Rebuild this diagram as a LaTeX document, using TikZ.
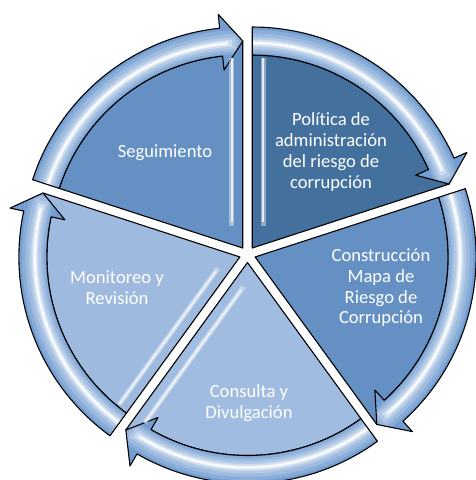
\documentclass[tikz,border=0pt]{standalone}
\usepackage{fontspec}
\setmainfont{Carlito}[Ligatures={NoCommon}]
\usetikzlibrary{calc}
\definecolor{bandc}{RGB}{116,158,210}
\definecolor{cpol}{RGB}{68,112,158}
\definecolor{ccon}{RGB}{101,144,196}
\definecolor{cseg}{RGB}{101,144,195}
\definecolor{ccons}{RGB}{160,188,224}
\definecolor{cmon}{RGB}{158,186,223}
\tikzset{
  outl/.style={draw=black, line width=1.1pt, line join=round},
  lbl/.style={text=white, font=\fontsize{18.6}{20.7}\selectfont, align=center},
  glossw/.style={white, opacity=.4, line width=5pt},
  glossn/.style={white, opacity=.8, line width=1.6pt},
}
% #1 bisector, #2 start angle, #3 end angle, #4 body colour, #5 name
\newcommand\segshape[5]{%
  \pgfmathsetmacro\hb{#3+6}%
  \begin{scope}[shift={(247.5,225.5)}, shift={(#1:8pt)}]
    \coordinate (#5) at (0,0);
    \path[outl, fill=#4] (0,0) -- (#3:207pt) -- (\hb:193pt)
      arc[start angle=\hb, end angle=#2, radius=193pt] -- cycle;
    \def\bp{(#2:221pt) arc[start angle=#2, end angle=\hb, radius=221pt]
      -- (\hb:235pt) -- (#3:207pt) -- (\hb:179pt) -- (\hb:193pt)
      arc[start angle=\hb, end angle=#2, radius=193pt] -- cycle}%
    \fill[bandc] \bp;
    \begin{scope}
      \clip \bp;
      \draw[bandc!85!white, line width=24pt] (#2:206pt) arc[start angle=#2, end angle=#3, radius=206pt];
      \draw[bandc!70!white, line width=18pt] (#2:205.5pt) arc[start angle=#2, end angle=#3+1, radius=205.5pt];
      \draw[bandc!55!white, line width=12pt] (#2:205pt) arc[start angle=#2, end angle=#3+2, radius=205pt];
      \draw[bandc!35!white, line width=7pt] (#2:205pt) arc[start angle=#2, end angle=#3+3, radius=205pt];
      \draw[bandc!15!white, line width=3.5pt] (#2:205pt) arc[start angle=#2, end angle=#3+4, radius=205pt];
      \draw[white, line width=1.4pt] (#2:205pt) arc[start angle=#2, end angle=#3+4.5, radius=205pt];
    \end{scope}
    \draw[outl] \bp;
  \end{scope}}
% #1 bisector, #2 edge angle, #3 inward direction
\newcommand\glossline[3]{%
  \begin{scope}[shift={(247.5,225.5)}, shift={(#1:8pt)}]
    \draw[glossw] ($(#2:22pt)+(#3:11pt)$) -- ($(#2:190pt)+(#3:11pt)$);
    \draw[glossn] ($(#2:26pt)+(#3:11pt)$) -- ($(#2:190pt)+(#3:11pt)$);
  \end{scope}}
\begin{document}
\begin{tikzpicture}[x=1pt, y=1pt]
\useasboundingbox (0,0) rectangle (475,480);
\segshape{54}{90}{18}{cpol}{spol}
\glossline{54}{90}{0}
\segshape{-18}{18}{-54}{ccon}{scon}
\segshape{-90}{-54}{-126}{ccons}{scons}
\glossline{-90}{-126}{-36}
\segshape{-162}{-126}{-198}{cmon}{smon}
\glossline{-162}{-126}{144}
\segshape{126}{162}{90}{cseg}{sseg}
\glossline{126}{90}{180}
\node[lbl] (tseg) at (165,327) {Seguimiento};
\node[lbl] (tpol) at (331,328) {Política de\\administración\\del riesgo de\\corrupción};
\node[lbl] (tcon) at (381,192) {Construcción\\Mapa de\\Riesgo de\\Corrupción};
\node[lbl] (tcons) at (249,77) {Consulta y\\Divulgación};
\node[lbl] (tmon) at (117,192) {Monitoreo y\\Revisión};
\end{tikzpicture}
\end{document}
